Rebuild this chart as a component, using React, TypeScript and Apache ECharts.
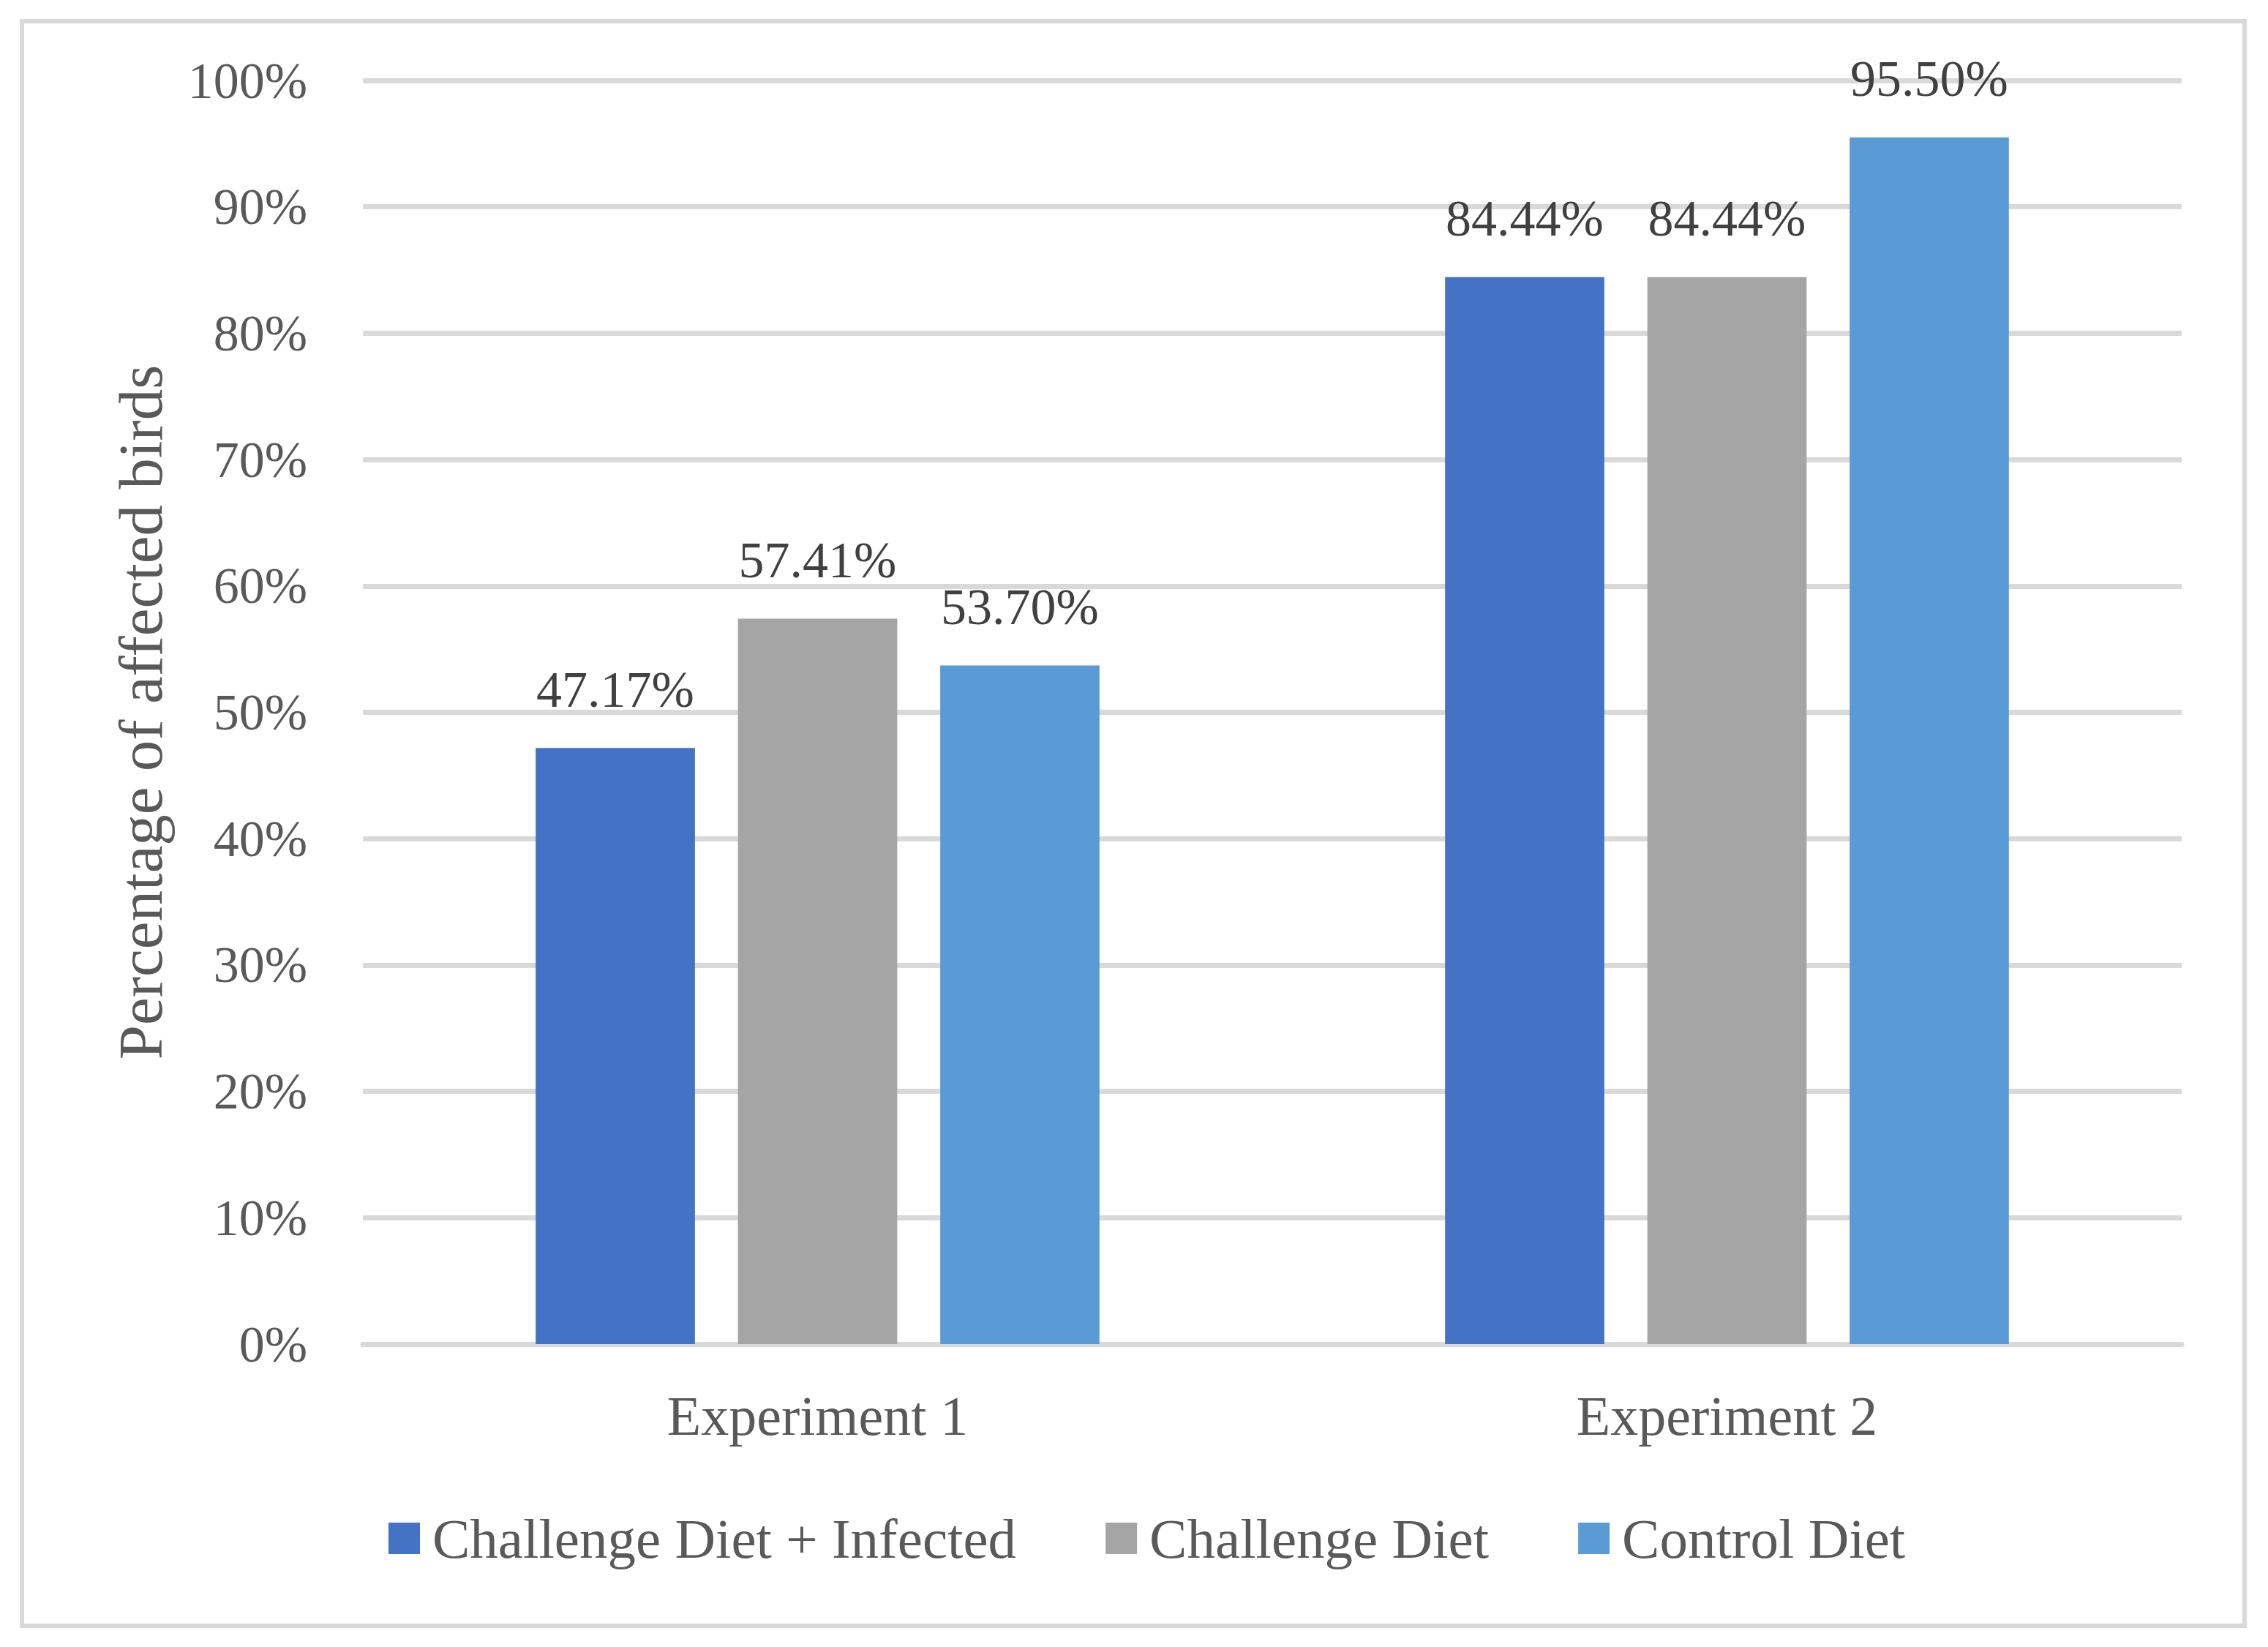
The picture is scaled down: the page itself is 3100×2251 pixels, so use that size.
import React, { useEffect, useRef } from "react";
import * as echarts from "echarts";

const categories = ["Experiment 1", "Experiment 2"];
const seriesNames = ["Challenge Diet + Infected", "Challenge Diet", "Control Diet"];
const infectedValues = [47.17, 84.44];
const challengeValues = [57.41, 84.44];
const controlValues = [53.7, 95.5];
const seriesColors = ["#4472C4", "#A5A5A5", "#5B9BD5"];
const yTickMax = 100;
const yTickStep = 10;
const yAxisTitle = "Percentage of affected birds";

const FONT = "Liberation Serif";

export default function App() {
  const ref = useRef<HTMLDivElement>(null);
  useEffect(() => {
    if (!ref.current) return;
    const chart = echarts.init(ref.current, undefined, { renderer: "svg" });
    const values = [infectedValues, challengeValues, controlValues];
    chart.setOption({
      animation: false,
      backgroundColor: "#FFFFFF",
      textStyle: { fontFamily: FONT },
      graphic: [
        {
          type: "rect",
          shape: { x: 30, y: 29, width: 3038, height: 2193 },
          style: { fill: "none", stroke: "#D9D9D9", lineWidth: 6 },
          z: -1,
        },
      ],
      grid: { left: 496, right: 118, top: 110, bottom: 414 },
      legend: {
        data: seriesNames,
        left: 531,
        top: 2064,
        padding: 0,
        itemWidth: 43,
        itemHeight: 43,
        itemGap: 122,
        icon: "rect",
        textStyle: { fontFamily: FONT, fontSize: 77, color: "#595959", padding: [0, 0, 0, 12] },
      },
      xAxis: {
        type: "category",
        data: categories,
        axisLine: { show: true, lineStyle: { color: "#D9D9D9", width: 7 } },
        axisTick: { show: false },
        axisLabel: { fontFamily: FONT, fontSize: 76, color: "#595959", margin: 60 },
      },
      yAxis: {
        type: "value",
        min: 0,
        max: yTickMax,
        interval: yTickStep,
        name: yAxisTitle,
        nameLocation: "middle",
        nameRotate: 90,
        nameGap: 262,
        nameTextStyle: { fontFamily: FONT, fontSize: 85, color: "#595959" },
        axisLine: { show: false },
        axisTick: { show: false },
        splitLine: { lineStyle: { color: "#D9D9D9", width: 7 } },
        axisLabel: {
          fontFamily: FONT,
          fontSize: 70,
          color: "#595959",
          margin: 76,
          formatter: "{value}%",
        },
      },
      series: seriesNames.map((name, i) => ({
        name,
        type: "bar",
        data: values[i],
        barGap: "27%",
        barCategoryGap: "38%",
        itemStyle: { color: seriesColors[i] },
        label: {
          show: true,
          position: "top",
          distance: 45,
          fontFamily: FONT,
          fontSize: 70,
          color: "#404040",
          formatter: (p: any) => Number(p.value).toFixed(2) + "%",
        },
      })),
    });
    return () => chart.dispose();
  }, []);
  return (
    <div
      ref={ref}
      style={{ position: "absolute", left: 0, top: 0, width: 3100, height: 2251, background: "#fff" }}
    />
  );
}
